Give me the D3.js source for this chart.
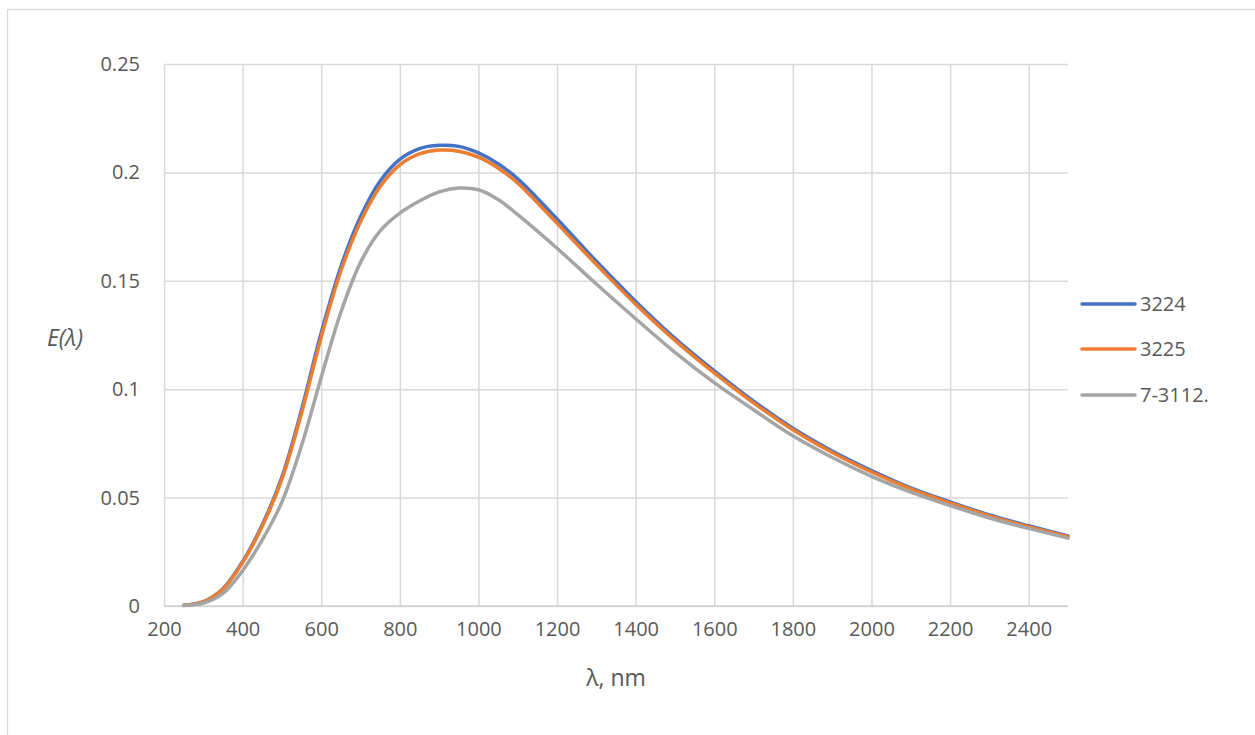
<!DOCTYPE html>
<html>
<head>
<meta charset="utf-8">
<script src="https://cdn.jsdelivr.net/npm/d3@7"></script>
<style>
  html, body { margin: 0; padding: 0; background: #fff; }
  svg { display: block; }
  text { font-family: "Open Sans", "Liberation Sans", sans-serif; fill: #595959; }
</style>
</head>
<body>
<svg id="chart" width="1255" height="735"></svg>
<script>
const wavelengths = [250,300,350,400,450,500,550,600,650,700,750,800,850,900,950,1000,1050,1100,1200,1300,1400,1500,1600,1700,1800,1900,2000,2100,2200,2300,2400,2500];
const s3224 = [0.0003,0.0020,0.0080,0.0205,0.0375,0.0595,0.0905,0.1260,0.1565,0.1795,0.1960,0.2060,0.2110,0.2125,0.2120,0.2090,0.2040,0.1970,0.1785,0.1590,0.1405,0.1235,0.1085,0.0945,0.0820,0.0715,0.0625,0.0545,0.0480,0.0420,0.0370,0.0323];
const s3225 = [0.0003,0.0019,0.0078,0.0200,0.0368,0.0585,0.0890,0.1240,0.1545,0.1772,0.1935,0.2035,0.2085,0.2103,0.2098,0.2070,0.2020,0.1950,0.1765,0.1575,0.1392,0.1225,0.1075,0.0937,0.0813,0.0708,0.0618,0.0540,0.0475,0.0416,0.0366,0.0320];
const s7_3112 = [0.0002,0.0013,0.0058,0.0163,0.0305,0.0480,0.0740,0.1055,0.1355,0.1585,0.1730,0.1812,0.1868,0.1910,0.1928,0.1920,0.1875,0.1805,0.1650,0.1485,0.1325,0.1170,0.1030,0.0905,0.0785,0.0685,0.0598,0.0525,0.0463,0.0406,0.0358,0.0313];
const seriesNames = ["3224","3225","7-3112."];
const seriesColors = ["#4472C4","#ED7D31","#A5A5A5"];
const xTicks = [200,400,600,800,1000,1200,1400,1600,1800,2000,2200,2400];
const yTicks = [0,0.05,0.1,0.15,0.2,0.25];
const xTitle = "λ, nm";
const yTitle = "E(λ)";

const svg = d3.select("#chart");
const L = 164, R = 1068, T = 64, B = 606;

// outer chart border
svg.append("rect").attr("x",7.5).attr("y",9.5).attr("width",1262).attr("height",740)
  .attr("fill","#fff").attr("stroke","#d9d9d9").attr("stroke-width",1.3);

const x = d3.scaleLinear().domain([200,2500]).range([L,R]);
const y = d3.scaleLinear().domain([0,0.25]).range([B,T]);

// gridlines
const gy = svg.append("g").attr("transform",`translate(${L},0)`)
  .call(d3.axisLeft(y).tickValues(yTicks).tickSize(-(R-L)).tickFormat(""));
gy.select(".domain").remove();
gy.selectAll("line").attr("stroke","#d9d9d9").attr("stroke-width",1.5);

const gx = svg.append("g").attr("transform",`translate(0,${B})`)
  .call(d3.axisBottom(x).tickValues(xTicks).tickSize(-(B-T)).tickFormat(""));
gx.select(".domain").remove();
gx.selectAll("line").attr("stroke","#d9d9d9").attr("stroke-width",1.5);

// axis line
svg.append("line").attr("x1",L).attr("x2",R).attr("y1",B).attr("y2",B)
  .attr("stroke","#d0d0d0").attr("stroke-width",1.5);

// tick labels
const yl = svg.append("g").attr("transform",`translate(${L},0)`)
  .call(d3.axisLeft(y).tickValues(yTicks).tickSize(0).tickPadding(24).tickFormat(d => d3.format("")(+d.toFixed(2))));
yl.select(".domain").remove();
yl.selectAll("text").attr("font-size","20px").attr("fill","#595959")
  .style("font-family",'"Open Sans", "Liberation Sans", sans-serif');

const xl = svg.append("g").attr("transform",`translate(0,${B})`)
  .call(d3.axisBottom(x).tickValues(xTicks).tickSize(0).tickPadding(16).tickFormat(d3.format("d")));
xl.select(".domain").remove();
xl.selectAll("text").attr("font-size","20px").attr("fill","#595959")
  .style("font-family",'"Open Sans", "Liberation Sans", sans-serif');

// titles
svg.append("text").attr("x",(L+R)/2).attr("y",686).attr("text-anchor","middle")
  .attr("font-size","23px").text(xTitle);
svg.append("text").attr("x",65).attr("y",346).attr("text-anchor","middle")
  .attr("font-size","23px").attr("font-style","italic").text(yTitle);

// series
const allSeries = [s3224, s3225, s7_3112];
const line = d3.line().x(d => x(d[0])).y(d => y(d[1])).curve(d3.curveCatmullRom.alpha(0.5));
allSeries.forEach((vals, i) => {
  const pts = wavelengths.map((w, j) => [w, vals[j]]);
  svg.append("path").datum(pts).attr("d", line).attr("fill","none")
    .attr("stroke", seriesColors[i]).attr("stroke-width", 3.5)
    .attr("stroke-linejoin","round").attr("stroke-linecap","round");
});

// legend
const legY = [304, 349, 395];
seriesNames.forEach((n, i) => {
  svg.append("line").attr("x1",1082).attr("x2",1135).attr("y1",legY[i]).attr("y2",legY[i])
    .attr("stroke",seriesColors[i]).attr("stroke-width",3.5).attr("stroke-linecap","round");
  svg.append("text").attr("x",1140).attr("y",legY[i]+7).attr("font-size","20px").text(n);
});
</script>
</body>
</html>
